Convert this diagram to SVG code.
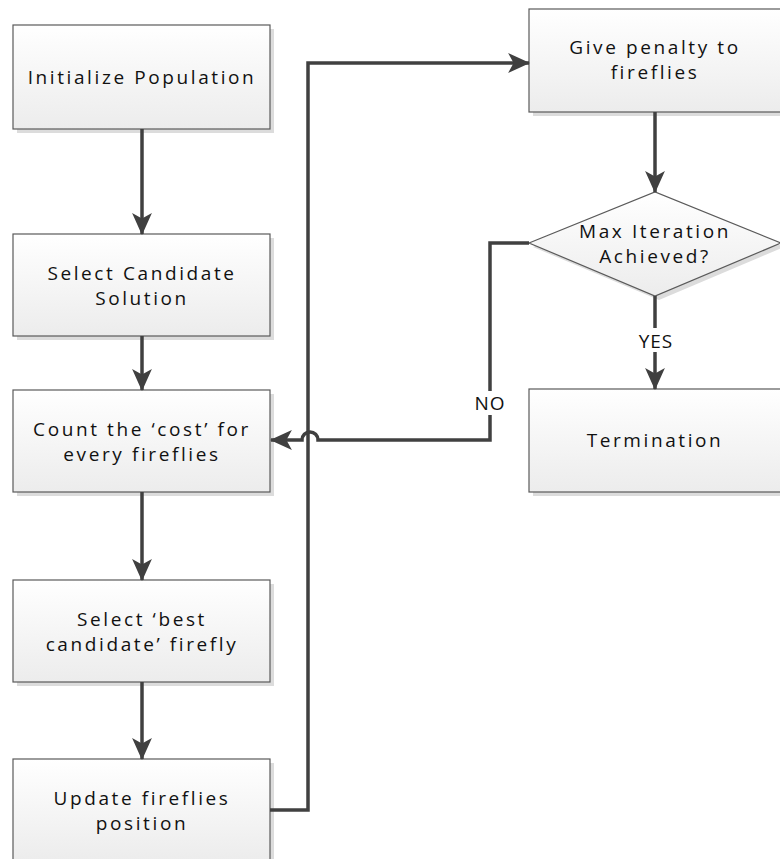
<svg xmlns="http://www.w3.org/2000/svg" width="780" height="859" viewBox="0 0 780 859">
<defs>
<linearGradient id="g" x1="0" y1="0" x2="0" y2="1">
<stop offset="0" stop-color="#ffffff"/>
<stop offset="1" stop-color="#ececec"/>
</linearGradient>
<marker id="a" viewBox="0 0 20 20" refX="19" refY="10" markerWidth="22" markerHeight="22" markerUnits="userSpaceOnUse" orient="auto">
<path d="M0,1 L20,10 L0,19 L5,10 Z" fill="#404040"/>
</marker>
</defs>
<style>
.box{fill:url(#g);stroke:#5a5a5a;stroke-width:1.2}
.sh{fill:#dcdcdc}
.t{font-family:"Open Sans","Liberation Sans",sans-serif;font-size:19px;letter-spacing:2.6px;fill:#111;text-anchor:middle}
.c{fill:none;stroke:#404040;stroke-width:3.5}
.lbl{font-family:"Open Sans","Liberation Sans",sans-serif;font-size:19px;letter-spacing:1px;fill:#111;text-anchor:middle}
</style>
<g id="n1"><rect class="sh" x="17" y="29" width="257" height="104"/><rect class="box" x="13" y="25" width="257" height="104"/><text class="t" x="142" y="84">Initialize Population</text></g>
<g id="n2"><rect class="sh" x="17" y="238" width="257" height="102"/><rect class="box" x="13" y="234" width="257" height="102"/><text class="t" x="142" y="280">Select Candidate</text><text class="t" x="142" y="305">Solution</text></g>
<g id="n3"><rect class="sh" x="17" y="394" width="257" height="102"/><rect class="box" x="13" y="390" width="257" height="102"/><text class="t" x="142" y="436">Count the ‘cost’ for</text><text class="t" x="142" y="461">every fireflies</text></g>
<g id="n4"><rect class="sh" x="17" y="584" width="257" height="102"/><rect class="box" x="13" y="580" width="257" height="102"/><text class="t" x="142" y="626">Select ‘best</text><text class="t" x="142" y="651">candidate’ firefly</text></g>
<g id="n5"><rect class="sh" x="17" y="763" width="257" height="102"/><rect class="box" x="13" y="759" width="257" height="102"/><text class="t" x="142" y="805">Update fireflies</text><text class="t" x="142" y="830">position</text></g>
<g id="n6"><rect class="sh" x="533" y="13" width="252" height="103"/><rect class="box" x="529" y="9" width="256" height="103"/><text class="t" x="655" y="54">Give penalty to</text><text class="t" x="655" y="79">fireflies</text></g>
<g id="n7"><polygon class="sh" points="533,247 659,196 784,247 659,300"/><polygon class="box" points="529,243 655,192 781,243 655,296"/><text class="t" x="655" y="238">Max Iteration</text><text class="t" x="655" y="263">Achieved?</text></g>
<g id="n8"><rect class="sh" x="533" y="393" width="252" height="103"/><rect class="box" x="529" y="389" width="256" height="103"/><text class="t" x="655" y="447">Termination</text></g>
<g id="connectors">
<path class="c" d="M142,129 V234" marker-end="url(#a)"/>
<path class="c" d="M142,336 V390" marker-end="url(#a)"/>
<path class="c" d="M142,492 V580" marker-end="url(#a)"/>
<path class="c" d="M142,682 V759" marker-end="url(#a)"/>
<path class="c" d="M270,810 H308 V63 H529" marker-end="url(#a)"/>
<path class="c" d="M655,112 V192" marker-end="url(#a)"/>
<path class="c" d="M655,296 V389" marker-end="url(#a)"/>
<path class="c" d="M529,243 H490 V440 H318 A8,8 0 0 0 302,440 H271" marker-end="url(#a)"/>
<rect x="468" y="391" width="44" height="24" fill="#fff"/>
<text class="lbl" x="490" y="410">NO</text>
<rect x="632" y="328" width="48" height="24" fill="#fff"/>
<text class="lbl" x="656" y="348">YES</text>
</g>
</svg>
